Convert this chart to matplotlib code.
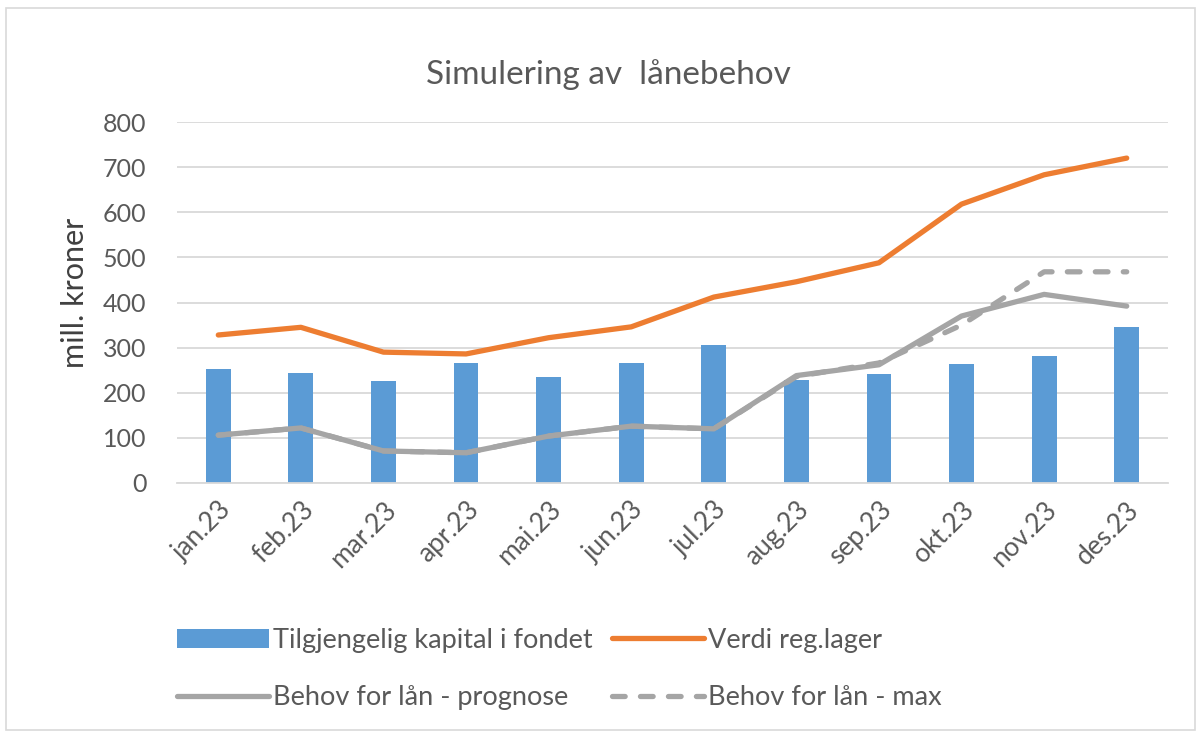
import matplotlib
matplotlib.use("Agg")
import matplotlib.pyplot as plt
from matplotlib.patches import Rectangle
import numpy as np

months = ["jan.23", "feb.23", "mar.23", "apr.23", "mai.23", "jun.23",
          "jul.23", "aug.23", "sep.23", "okt.23", "nov.23", "des.23"]
kapital = [252, 244, 226, 266, 234, 266, 306, 228, 242, 264, 281, 346]
lager = [328, 345, 290, 286, 322, 346, 412, 446, 488, 618, 683, 720]
prognose = [106, 122, 71, 67, 104, 126, 120, 238, 262, 370, 418, 392]
maks = [106, 122, 71, 67, 104, 126, 120, 236, 266, 350, 468, 468]
yticks = [0, 100, 200, 300, 400, 500, 600, 700, 800]

plt.rcParams['font.family'] = ['Lato', 'DejaVu Sans']
text_col = '#595959'

fig = plt.figure(figsize=(12.01, 7.38), dpi=100)
fig.patches.append(Rectangle((6/1201, 8/738), 1189/1201, 722/738,
                             transform=fig.transFigure, fill=False,
                             edgecolor='#D9D9D9', linewidth=1.2))

ax = fig.add_axes([177/1201, (738-483)/738, 991/1201, 361/738])
x = np.arange(len(months))
b = ax.bar(x, kapital, width=0.3, color='#5B9BD5', zorder=2,
           label='Tilgjengelig kapital i fondet')
l1, = ax.plot(x, lager, color='#ED7D31', lw=3.8, zorder=4,
              solid_capstyle='round', label='Verdi reg.lager')
l3, = ax.plot(x, maks, color='#A5A5A5', lw=3.8, ls=(0, (2.4, 2.9)), zorder=3,
              dash_capstyle='round', label='Behov for lån - max')
l2, = ax.plot(x, prognose, color='#A5A5A5', lw=3.8, zorder=3,
              solid_capstyle='round', label='Behov for lån - prognose')

ax.set_xlim(-0.5, len(months) - 0.5)
ax.set_ylim(0, 800)
ax.set_yticks(yticks)
ax.set_yticklabels([str(v) for v in yticks])
ax.set_xticks(x)
ax.set_xticklabels(months, rotation=45, ha='right', va='top',
                   rotation_mode='anchor')
ax.grid(axis='y', color='#D9D9D9', lw=1.3, zorder=0)
ax.set_axisbelow(True)
for s in ['top', 'right', 'left']:
    ax.spines[s].set_visible(False)
ax.spines['bottom'].set_color('#D9D9D9')
ax.spines['bottom'].set_linewidth(1.3)
ax.tick_params(axis='both', length=0, colors=text_col)
ax.tick_params(axis='y', pad=22, labelsize=18)
ax.tick_params(axis='x', pad=10, labelsize=19)

fig.text(75/1201, (738-293)/738, 'mill. kroner', rotation=90, ha='center',
         va='center', fontsize=22, color='#404040')
fig.text(0.507, (738-75)/738, 'Simulering av  lånebehov', ha='center',
         va='center', fontsize=24, color=text_col)

handles = [b, l2, l1, l3]
labels = [h.get_label() for h in handles]
leg = fig.legend(handles, labels, ncol=2, loc='center left',
                 frameon=False, fontsize=19.5, handlelength=3.4,
                 handletextpad=0.15, columnspacing=0.7, labelspacing=1.2,
                 borderaxespad=0, borderpad=0)
leg.set_bbox_to_anchor((177/1201, (738-669)/738), transform=fig.transFigure)
for t in leg.get_texts():
    t.set_color(text_col)

fig.savefig('out.png', dpi=100)
